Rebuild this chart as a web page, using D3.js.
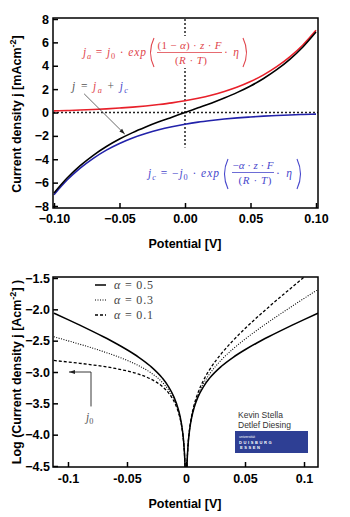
<!DOCTYPE html>
<html>
<head>
<meta charset="utf-8">
<script src="https://cdn.jsdelivr.net/npm/d3@7"></script>
<style>
body { margin: 0; background: #fff; }
</style>
</head>
<body>
<svg id="chart" width="350" height="517"></svg>
<script>
// ---- top panel: partial current densities [mA/cm2] vs potential [V]
var potential = [-0.10, -0.09, -0.08, -0.07, -0.06, -0.05, -0.04, -0.03, -0.02, -0.01, 0,
                 0.01, 0.02, 0.03, 0.04, 0.05, 0.06, 0.07, 0.08, 0.09, 0.10];
var anodic = [0.14, 0.17, 0.21, 0.26, 0.31, 0.38, 0.46, 0.56, 0.68, 0.82, 1.00,
              1.22, 1.48, 1.80, 2.18, 2.65, 3.22, 3.92, 4.76, 5.78, 7.03];
var cathodic = [-7.03, -5.78, -4.76, -3.92, -3.22, -2.65, -2.18, -1.80, -1.48, -1.22, -1.00,
                -0.82, -0.68, -0.56, -0.46, -0.38, -0.31, -0.26, -0.21, -0.17, -0.14];
var total = [-6.89, -5.61, -4.55, -3.66, -2.91, -2.27, -1.72, -1.24, -0.80, -0.40, 0,
             0.40, 0.80, 1.24, 1.72, 2.27, 2.91, 3.66, 4.55, 5.61, 6.89];
var topXTicks = [-0.10, -0.05, 0, 0.05, 0.10];
var topYTicks = [-8, -6, -4, -2, 0, 2, 4, 6, 8];

// ---- bottom panel: log10 |j| [A/cm2] for three transfer coefficients
var logPotential = [-0.112, -0.10, -0.09, -0.08, -0.07, -0.06, -0.05, -0.04, -0.03, -0.02, -0.015, -0.01,
                    -0.007, -0.005, -0.003, -0.002, -0.001, -0.0008, 0,
                    0.0008, 0.001, 0.002, 0.003, 0.005, 0.007, 0.01, 0.015, 0.02, 0.03, 0.04,
                    0.05, 0.06, 0.07, 0.08, 0.09, 0.10, 0.112];
var logAlpha05 = [-2.06, -2.164, -2.253, -2.344, -2.438, -2.537, -2.645, -2.765, -2.909, -3.098, -3.228, -3.407,
                  -3.564, -3.710, -3.933, -4.109, -4.410, -4.507, -4.6,
                  -4.507, -4.410, -4.109, -3.933, -3.710, -3.564, -3.407, -3.228, -3.098, -2.909, -2.765,
                  -2.645, -2.537, -2.438, -2.344, -2.253, -2.164, -2.06];
var logAlpha03 = [-2.438, -2.502, -2.557, -2.614, -2.675, -2.740, -2.814, -2.900, -3.010, -3.166, -3.279, -3.441,
                  -3.587, -3.727, -3.943, -4.116, -4.412, -4.51, -4.6,
                  -4.506, -4.408, -4.102, -3.923, -3.693, -3.540, -3.374, -3.177, -3.031, -2.807, -2.630,
                  -2.476, -2.335, -2.202, -2.074, -1.949, -1.826, -1.681];
var logAlpha01 = [-2.816, -2.840, -2.861, -2.885, -2.911, -2.943, -2.983, -3.035, -3.111, -3.233, -3.329, -3.475,
                  -3.611, -3.744, -3.953, -4.123, -4.414, -4.51, -4.6,
                  -4.50, -4.406, -4.095, -3.913, -3.677, -3.516, -3.340, -3.126, -2.963, -2.706, -2.495,
                  -2.307, -2.132, -1.965, -1.803, -1.645, -1.488, -1.303];
var alphaLabels = ["0.5", "0.3", "0.1"];
var bottomXTicks = [-0.1, -0.05, 0, 0.05, 0.1];
var bottomXLabels = ["-0.1", "-0.05", "0", "0.05", "0.1"];
var bottomYTicks = [-4.5, -4.0, -3.5, -3.0, -2.5, -2.0, -1.5];

var sans = "'Liberation Sans', Arial, Helvetica, sans-serif";
var serif = "'Liberation Serif', 'DejaVu Serif', serif";
var red = "#e8202a", blue = "#2222aa";
var redText = "#e0454c", blueText = "#4848cc";

var svg = d3.select("#chart");

// math-like text with subscripts, optionally stretched to a given width
function mathText(g, x, y, parts, size, color, anchor, width) {
    var t = g.append("text").attr("x", x).attr("y", y)
        .attr("font-family", serif).attr("font-size", size)
        .attr("fill", color).attr("text-anchor", anchor || "start");
    if (width) t.attr("textLength", width).attr("lengthAdjust", "spacing");
    var shift = 0;
    parts.forEach(function(p) {
        var s = t.append("tspan").text(p.t);
        var target = p.sub ? size * 0.28 : 0;
        s.attr("dy", target - shift);
        shift = target;
        if (p.sub) s.attr("font-size", size * 0.72);
        if (p.it) s.attr("font-style", "italic");
        if (p.c) s.attr("fill", p.c);
    });
    return t;
}

// thin big bracket drawn as a curve
function paren(g, x, yTop, yBot, side, color) {
    var ym = (yTop + yBot) / 2, w = 6;
    var xe = side < 0 ? x + w : x, xm = side < 0 ? x - 1 : x + w + 1;
    g.append("path").attr("d", "M" + xe + "," + yTop + "Q" + xm + "," + ym + " " + xe + "," + yBot)
        .attr("fill", "none").attr("stroke", color).attr("stroke-width", 1.1);
}

function frame(g, x0, x1, y0, y1) {
    g.append("rect").attr("x", x0).attr("y", y0)
        .attr("width", x1 - x0).attr("height", y1 - y0)
        .attr("fill", "none").attr("stroke", "#000").attr("stroke-width", 1.5);
}

function styleAxis(a) {
    a.select(".domain").remove();
    a.selectAll(".tick line").attr("stroke", "#000").attr("stroke-width", 1.5);
    a.selectAll(".tick text").attr("font-family", sans).attr("font-weight", "bold")
        .attr("font-size", 12.5).attr("fill", "#000");
}

// ================= TOP PANEL =================
var x1 = d3.scaleLinear().domain([-0.1, 0.1]).range([54, 316]);
var y1 = d3.scaleLinear().domain([-8, 8]).range([206, 19]);
var f1 = {l: 53, r: 318, t: 18, b: 208};

svg.append("clipPath").attr("id", "clipTop").append("rect")
    .attr("x", f1.l).attr("y", f1.t).attr("width", f1.r - f1.l).attr("height", f1.b - f1.t);

var topPanel = svg.append("g");

// guide lines
topPanel.append("line")
    .attr("x1", f1.l).attr("x2", f1.r).attr("y1", y1(0)).attr("y2", y1(0))
    .attr("stroke", "#222").attr("stroke-width", 1.5).attr("stroke-dasharray", "2,2");
topPanel.append("line")
    .attr("x1", x1(0)).attr("x2", x1(0)).attr("y1", y1(8)).attr("y2", y1(-3))
    .attr("stroke", "#222").attr("stroke-width", 1.5).attr("stroke-dasharray", "2,2");

var line1 = d3.line().curve(d3.curveMonotoneX)
    .x(function(d) { return x1(d[0]); }).y(function(d) { return y1(d[1]); });

var curves = topPanel.append("g").attr("clip-path", "url(#clipTop)");
[[anodic, red], [cathodic, blue], [total, "#000"]].forEach(function(s) {
    curves.append("path")
        .datum(d3.zip(potential, s[0]))
        .attr("d", line1).attr("fill", "none")
        .attr("stroke", s[1]).attr("stroke-width", 1.6);
});

var ax1 = topPanel.append("g").attr("transform", "translate(0," + f1.b + ")")
    .call(d3.axisBottom(x1).tickValues(topXTicks).tickSize(-5).tickPadding(6).tickFormat(d3.format(".2f")));
styleAxis(ax1);
var ay1 = topPanel.append("g").attr("transform", "translate(" + f1.l + ",0)")
    .call(d3.axisLeft(y1).tickValues(topYTicks).tickSize(-5).tickPadding(4).tickFormat(d3.format("d")));
styleAxis(ay1);
frame(topPanel, f1.l, f1.r, f1.t, f1.b);

topPanel.append("text").attr("x", 185).attr("y", 248).attr("text-anchor", "middle")
    .attr("font-family", sans).attr("font-weight", "bold").attr("font-size", 12.5)
    .text("Potential [V]");
var yt1 = topPanel.append("text").attr("transform", "translate(21,114) rotate(-90)")
    .attr("text-anchor", "middle").attr("font-family", sans).attr("font-weight", "bold").attr("font-size", 12.5);
yt1.append("tspan").text("Current density j [mAcm");
yt1.append("tspan").attr("dy", -5).attr("font-size", 9).text("-2");
yt1.append("tspan").attr("dy", 5).text("]");

// anodic equation
var eqA = topPanel.append("g");
eqA.append("rect").attr("x", 155).attr("y", 36).attr("width", 68).attr("height", 32).attr("fill", "#fff");
mathText(eqA, 83, 56, [{t: "j", it: 1}, {t: "a", sub: 1, it: 1}, {t: " = "}, {t: "j", it: 1}, {t: "0", sub: 1},
    {t: " · "}, {t: "exp", it: 1}], 11.5, redText, "start", 63);
paren(eqA, 148, 38, 67, -1, redText);
mathText(eqA, 189.5, 48.5, [{t: "(1 − "}, {t: "α", it: 1}, {t: ") · "}, {t: "z", it: 1}, {t: " · "}, {t: "F", it: 1}], 11, redText, "middle", 64);
eqA.append("line").attr("x1", 157).attr("x2", 222).attr("y1", 52.5).attr("y2", 52.5)
    .attr("stroke", redText).attr("stroke-width", 0.8);
mathText(eqA, 191, 64, [{t: "("}, {t: "R", it: 1}, {t: " · "}, {t: "T", it: 1}, {t: ")"}], 11, redText, "middle", 32);
mathText(eqA, 224, 56, [{t: "· "}, {t: "η", it: 1}], 11.5, redText, "start", 15);
paren(eqA, 243, 38, 67, 1, redText);

// cathodic equation
var eqC = topPanel.append("g");
mathText(eqC, 148, 177, [{t: "j", it: 1}, {t: "c", sub: 1, it: 1}, {t: " = −"}, {t: "j", it: 1}, {t: "0", sub: 1},
    {t: " · "}, {t: "exp", it: 1}], 11.5, blueText, "start", 71);
paren(eqC, 222, 159, 189, -1, blueText);
mathText(eqC, 253, 168.5, [{t: "−"}, {t: "α", it: 1}, {t: " · "}, {t: "z", it: 1}, {t: " · "}, {t: "F", it: 1}], 11, blueText, "middle", 41);
eqC.append("line").attr("x1", 232).attr("x2", 274).attr("y1", 172.5).attr("y2", 172.5)
    .attr("stroke", blueText).attr("stroke-width", 0.8);
mathText(eqC, 255, 184, [{t: "("}, {t: "R", it: 1}, {t: " · "}, {t: "T", it: 1}, {t: ")"}], 11, blueText, "middle", 33);
mathText(eqC, 276, 177, [{t: "· "}, {t: "η", it: 1}], 11.5, blueText, "start", 16);
paren(eqC, 297, 159, 189, 1, blueText);

// total current annotation
mathText(topPanel, 72, 90, [{t: "j", it: 1}, {t: " = "}, {t: "j", it: 1, c: redText}, {t: "a", sub: 1, it: 1, c: redText},
    {t: " + "}, {t: "j", it: 1, c: blueText}, {t: "c", sub: 1, it: 1, c: blueText}], 11.5, "#555", "start", 56);
svg.append("defs").append("marker").attr("id", "arrow").attr("viewBox", "0 0 10 10")
    .attr("refX", 10).attr("refY", 5).attr("markerWidth", 7).attr("markerHeight", 7)
    .attr("orient", "auto").append("path").attr("d", "M0,1.5L10,5L0,8.5Z").attr("fill", "#222");
topPanel.append("line")
    .attr("x1", x1(-0.077)).attr("y1", y1(1.6)).attr("x2", x1(-0.046)).attr("y2", y1(-1.85))
    .attr("stroke", "#444").attr("stroke-width", 0.8).attr("marker-end", "url(#arrow)");

// ================= BOTTOM PANEL =================
var x2 = d3.scaleLinear().domain([-0.1127, 0.1127]).range([53, 319]);
var y2 = d3.scaleLinear().domain([-4.5, -1.5]).range([466, 278]);
var f2 = {l: 53, r: 318, t: 277, b: 467};

svg.append("clipPath").attr("id", "clipBot").append("rect")
    .attr("x", f2.l).attr("y", f2.t).attr("width", f2.r - f2.l).attr("height", f2.b - f2.t);

var bot = svg.append("g");
var line2 = d3.line().curve(d3.curveMonotoneX)
    .x(function(d) { return x2(d[0]); }).y(function(d) { return y2(d[1]); });

var styles = [
    {v: logAlpha05, dash: null, w: 1.5},
    {v: logAlpha03, dash: "1,1.5", w: 1.1},
    {v: logAlpha01, dash: "3,2", w: 1.3}
];
var curves2 = bot.append("g").attr("clip-path", "url(#clipBot)");
styles.forEach(function(s) {
    curves2.append("path")
        .datum(d3.zip(logPotential, s.v))
        .attr("d", line2).attr("fill", "none")
        .attr("stroke", "#000").attr("stroke-width", s.w)
        .attr("stroke-dasharray", s.dash);
});

var ax2 = bot.append("g").attr("transform", "translate(0," + f2.b + ")")
    .call(d3.axisBottom(x2).tickValues(bottomXTicks).tickSize(-5).tickPadding(7)
        .tickFormat(function(d, i) { return bottomXLabels[i]; }));
styleAxis(ax2);
var ay2 = bot.append("g").attr("transform", "translate(" + f2.l + ",0)")
    .call(d3.axisLeft(y2).tickValues(bottomYTicks).tickSize(-5).tickPadding(3).tickFormat(d3.format(".1f")));
styleAxis(ay2);
frame(bot, f2.l, f2.r, f2.t, f2.b);

bot.append("text").attr("x", 185).attr("y", 508).attr("text-anchor", "middle")
    .attr("font-family", sans).attr("font-weight", "bold").attr("font-size", 12.5)
    .text("Potential [V]");
var yt2 = bot.append("text").attr("transform", "translate(21,372) rotate(-90)")
    .attr("text-anchor", "middle").attr("font-family", sans).attr("font-weight", "bold").attr("font-size", 12.5);
yt2.append("tspan").text("Log (Current density j [Acm");
yt2.append("tspan").attr("dy", -5).attr("font-size", 9).text("-2");
yt2.append("tspan").attr("dy", 5).text("] )");

// legend
var leg = bot.append("g");
styles.forEach(function(s, i) {
    var yy = 285 + i * 15;
    leg.append("line").attr("x1", 95).attr("x2", 106).attr("y1", yy).attr("y2", yy)
        .attr("stroke", "#000").attr("stroke-width", s.w).attr("stroke-dasharray", s.dash);
    mathText(leg, 114, yy + 4, [{t: "α", it: 1}, {t: " = " + alphaLabels[i]}], 12, "#444", "start", 39);
});

// exchange current marker
bot.append("path")
    .attr("d", "M" + x2(-0.0805) + "," + y2(-3.55) + "V" + y2(-3.0) + "H" + (x2(-0.1) + 1))
    .attr("fill", "none").attr("stroke", "#222").attr("stroke-width", 0.9)
    .attr("marker-end", "url(#arrow)");
mathText(bot, 86, 421, [{t: "j", it: 1}, {t: "0", sub: 1}], 11.5, "#555");

// credits and logo
bot.append("text").attr("x", 238).attr("y", 418).attr("font-family", sans).attr("font-size", 8.5)
    .attr("fill", "#333").text("Kevin Stella");
bot.append("text").attr("x", 238).attr("y", 428).attr("font-family", sans).attr("font-size", 8.5)
    .attr("fill", "#333").text("Detlef Diesing");
bot.append("rect").attr("x", 235).attr("y", 431).attr("width", 73).attr("height", 22).attr("fill", "#2e3f94");
bot.append("text").attr("x", 239).attr("y", 437.5).attr("font-family", sans).attr("font-size", 3.5)
    .attr("fill", "#fff").text("universität");
bot.append("text").attr("x", 239).attr("y", 443.5).attr("font-family", sans).attr("font-size", 4)
    .attr("font-weight", "bold").attr("letter-spacing", 1.6).attr("fill", "#fff").text("DUISBURG");
bot.append("text").attr("x", 240).attr("y", 448.5).attr("font-family", sans).attr("font-size", 4)
    .attr("font-weight", "bold").attr("letter-spacing", 1.6).attr("fill", "#fff").text("ESSEN");
</script>
</body>
</html>
